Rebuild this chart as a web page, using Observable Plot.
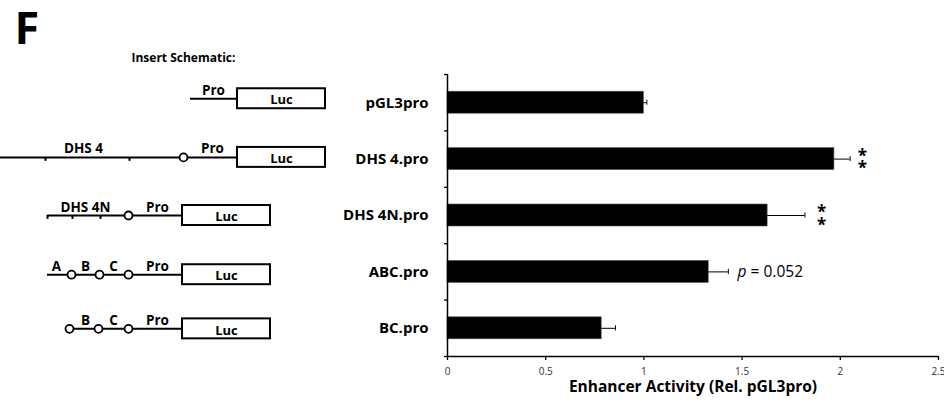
<!DOCTYPE html>
<html>
<head>
<meta charset="utf-8">
<script src="https://cdn.jsdelivr.net/npm/d3@7"></script>
<script src="https://cdn.jsdelivr.net/npm/@observablehq/plot@0.6"></script>
<style>
  html, body { margin: 0; padding: 0; background: white; }
  #wrap { position: relative; width: 944px; height: 413px; overflow: hidden; font-family: "Open Sans", sans-serif; }
  #chart, #schem { position: absolute; top: 0; left: 0; margin: 0; }
  #chart svg, #schem svg { display: block; }
</style>
</head>
<body>
<div id="wrap">
  <div id="chart"></div>
  <div id="schem"></div>
</div>
<script>
// ---- bar chart data ----
const categories = ["pGL3pro", "DHS 4.pro", "DHS 4N.pro", "ABC.pro", "BC.pro"];
const activity   = [1.00, 1.97, 1.63, 1.33, 0.785];
const errors     = [0.015, 0.08, 0.19, 0.10, 0.07];
const xTicks     = [0, 0.5, 1, 1.5, 2, 2.5];
const xTickLabels = ["0", "0.5", "1", "1.5", "2", "2.5"];
// significance annotations, placed at a value on the activity axis
const annotations = [
  {cat: "DHS 4.pro", at: 2.113, text: "*\n*", kind: "star"},
  {cat: "DHS 4N.pro", at: 1.905, text: "*\n*", kind: "star"},
  {cat: "ABC.pro", at: 1.477, text: "= 0.052", kind: "p"}
];
const xLabel = "Enhancer Activity (Rel. pGL3pro)";
const panelLetter = "F";
const schematicTitle = "Insert Schematic:";

// ---- schematic data (schematic units) ----
const schematicRowY = [0.43, 1.47, 2.5, 3.55, 4.51];
const schemLines = [
  {row: 0, x1: 190, x2: 237}, {row: 1, x1: 0, x2: 237}, {row: 2, x1: 47, x2: 182},
  {row: 3, x1: 47, x2: 182}, {row: 4, x1: 69, x2: 182}
];
const schemBoxes = [
  {row: 0, x1: 237, x2: 325}, {row: 1, x1: 237, x2: 325}, {row: 2, x1: 182, x2: 270},
  {row: 3, x1: 182, x2: 270}, {row: 4, x1: 182, x2: 270}
];
const schemTicks = [
  {row: 1, x: 45}, {row: 1, x: 129}, {row: 2, x: 47}, {row: 2, x: 72}, {row: 2, x: 100}
];
const schemSites = [
  {row: 1, x: 183}, {row: 2, x: 128}, {row: 3, x: 71}, {row: 3, x: 99}, {row: 3, x: 128},
  {row: 4, x: 69}, {row: 4, x: 98}, {row: 4, x: 128}
];
const schemLabels = [
  {row: 0, x: 213, t: "Pro"}, {row: 1, x: 83, t: "DHS 4"}, {row: 1, x: 212, t: "Pro"},
  {row: 2, x: 85, t: "DHS 4N"}, {row: 2, x: 157, t: "Pro"},
  {row: 3, x: 56, t: "A"}, {row: 3, x: 85, t: "B"}, {row: 3, x: 113, t: "C"}, {row: 3, x: 157, t: "Pro"},
  {row: 4, x: 85, t: "B"}, {row: 4, x: 113, t: "C"}, {row: 4, x: 157, t: "Pro"}
];

const rows = categories.map((c, i) => ({c, i, v: activity[i], e: errors[i], yc: i + 0.5}));
const byCat = new Map(rows.map(r => [r.c, r]));
const ann = annotations.map(a => ({...byCat.get(a.cat), ...a}));
const half = 0.195;

const yScale = {domain: [0, 5], range: [74, 356], axis: null};

const chart = Plot.plot({
  width: 944, height: 413,
  marginLeft: 447, marginRight: 6, marginTop: 74, marginBottom: 57,
  style: {fontFamily: "Open Sans", background: "transparent", overflow: "visible"},
  x: {domain: [0, 2.5], axis: null},
  y: yScale,
  marks: [
    Plot.rectX(rows, {x1: 0, x2: "v", y1: d => d.yc - half, y2: d => d.yc + half, fill: "#000", stroke: "#555", strokeWidth: 0.6}),
    Plot.ruleY(rows, {x1: "v", x2: d => d.v + d.e, y: "yc", stroke: "#000", strokeWidth: 1}),
    Plot.ruleX(rows, {x: d => d.v + d.e, y1: d => d.yc - 0.045, y2: d => d.yc + 0.045, stroke: "#000", strokeWidth: 1}),
    Plot.axisY({ticks: [0, 1, 2, 3, 4, 5], tickSize: 3, tickFormat: () => "", label: null, stroke: "#000", strokeWidth: 1.3}),
    Plot.ruleX([0], {y1: 0, y2: 5, stroke: "#000", strokeWidth: 1.5}),
    Plot.ruleY([5], {x1: 0, x2: 2.5, stroke: "#000", strokeWidth: 1.5}),
    Plot.axisX({ticks: xTicks, tickSize: 4, tickPadding: 7, tickFormat: (d, i) => xTickLabels[i], fontSize: 10, fill: "#333", stroke: "#000", strokeWidth: 1.3, label: null}),
    Plot.text(rows, {x: 0, y: "yc", text: "c", textAnchor: "end", dx: -19, fontSize: 15, fontWeight: "bold", fill: "#000"}),
    Plot.text([xLabel], {x: d3.mean([0, 2.5]), frameAnchor: "bottom", dy: 35, text: d => d, fontSize: 15.5, fontWeight: "bold", fill: "#000", lineAnchor: "bottom"}),
    Plot.text(ann.filter(a => a.kind === "star"), {x: "at", y: "yc", text: "text", textAnchor: "middle", dy: 5, fontSize: 17, fontWeight: "bold", lineHeight: 0.72, fill: "#000"}),
    Plot.text(ann.filter(a => a.kind === "p"), {x: "at", y: "yc", text: () => "p", textAnchor: "start", fontSize: 15.5, fontStyle: "italic", fill: "#000"}),
    Plot.text(ann.filter(a => a.kind === "p"), {x: "at", y: "yc", text: "text", textAnchor: "start", dx: 13, fontSize: 15.5, fill: "#000"})
  ]
});
document.getElementById("chart").appendChild(chart);

const ry = d => schematicRowY[d.row];
const schem = Plot.plot({
  width: 340, height: 413,
  marginLeft: 0, marginRight: 0, marginTop: 74, marginBottom: 57,
  style: {fontFamily: "Open Sans", background: "transparent", overflow: "visible"},
  x: {domain: [0, 340], range: [0, 340], axis: null},
  y: yScale,
  marks: [
    Plot.text([panelLetter], {frameAnchor: "top-left", text: d => d, textAnchor: "start", lineAnchor: "top", dx: 14, dy: -62, fontSize: 45, fontWeight: "bold", fill: "#000"}),
    Plot.text([schematicTitle], {frameAnchor: "top-left", text: d => d, textAnchor: "start", lineAnchor: "top", dx: 131, dy: -21, fontSize: 12, fontWeight: "bold", fill: "#000"}),
    Plot.ruleY(schemLines, {x1: "x1", x2: "x2", y: ry, stroke: "#000", strokeWidth: 2}),
    Plot.ruleX(schemTicks, {x: "x", y1: ry, y2: d => ry(d) + 0.07, stroke: "#000", strokeWidth: 2}),
    Plot.rect(schemBoxes, {x1: "x1", x2: "x2", y1: d => ry(d) - 0.177, y2: d => ry(d) + 0.177, fill: "white", stroke: "#000", strokeWidth: 2}),
    Plot.text(schemBoxes, {x: d => (d.x1 + d.x2) / 2, y: ry, text: () => "Luc", dy: 1.5, fontSize: 13, fontWeight: "bold", fill: "#000"}),
    Plot.dot(schemSites, {x: "x", y: ry, r: 4, fill: "white", stroke: "#000", strokeWidth: 1.8}),
    Plot.text(schemLabels, {x: "x", y: ry, text: "t", lineAnchor: "bottom", dy: -4, fontSize: 13.5, fontWeight: "bold", fill: "#000"})
  ]
});
document.getElementById("schem").appendChild(schem);
</script>
</body>
</html>
